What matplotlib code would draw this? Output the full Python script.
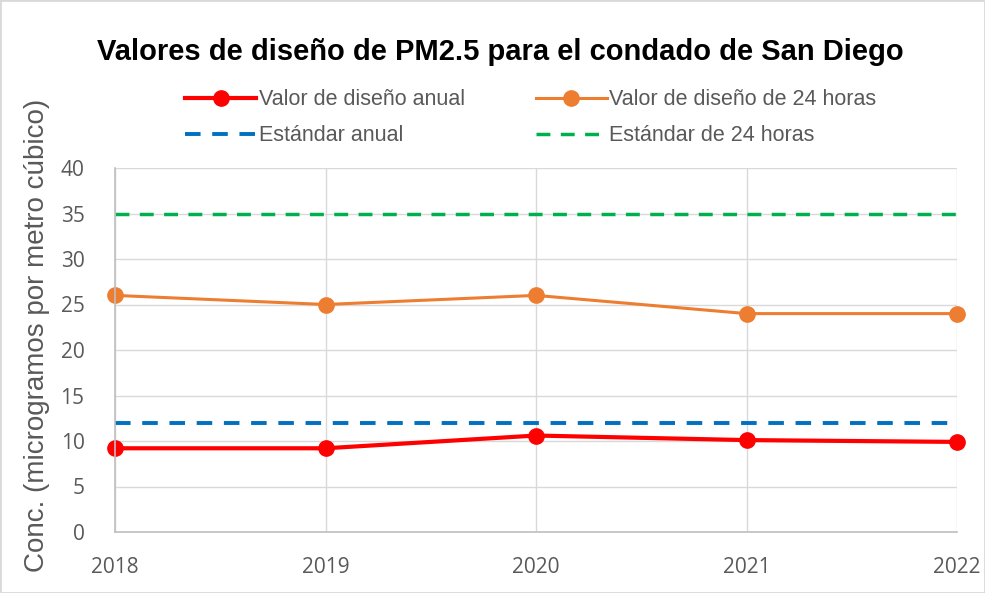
import matplotlib.pyplot as plt
from matplotlib.patches import Rectangle

years = [2018, 2019, 2020, 2021, 2022]
anual = [9.2, 9.2, 10.6, 10.1, 9.9]
horas24 = [26, 25, 26, 24, 24]
std_anual = [12, 12, 12, 12, 12]
std_24h = [35, 35, 35, 35, 35]
yticks = [0, 5, 10, 15, 20, 25, 30, 35, 40]

gray = "#595959"

fig = plt.figure(figsize=(9.85, 5.93), dpi=100)
ax = fig.add_axes([115 / 985, 61 / 593, 842 / 985, 364 / 593])

l_std24, = ax.plot(years, std_24h, "--", color="#00B050", lw=2.5, dashes=(4, 3),
                   label="Estándar de 24 horas")
l_stdan, = ax.plot(years, std_anual, "--", color="#0070C0", lw=2.8, dashes=(4, 3),
                   label="Estándar anual")
l_24h, = ax.plot(years, horas24, "-o", color="#ED7D31", lw=2.2, markersize=11,
                 clip_on=False, label="Valor de diseño de 24 horas")
l_an, = ax.plot(years, anual, "-o", color="#FF0000", lw=3, markersize=11,
                clip_on=False, label="Valor de diseño anual")

ax.set_xlim(2018, 2022)
ax.set_ylim(0, 40)
ax.set_xticks(years)
ax.set_yticks(yticks)
ax.grid(True, color="#D9D9D9", lw=1)
ax.set_axisbelow(True)
for s in ["top", "right"]:
    ax.spines[s].set_visible(False)
for s in ["left", "bottom"]:
    ax.spines[s].set_color("#BFBFBF")
    ax.spines[s].set_linewidth(1.2)
ax.tick_params(length=0, labelsize=15, labelcolor=gray)
ax.tick_params(axis="x", pad=18)
ax.tick_params(axis="y", pad=22)
for lab in ax.get_xticklabels() + ax.get_yticklabels():
    lab.set_family("Open Sans")
ax.set_ylabel("Conc. (microgramos por metro cúbico)", fontsize=20,
              color=gray, family="Liberation Sans")
ax.yaxis.set_label_coords(-0.077, 0.54)

fig.legend([l_an, l_stdan, l_24h, l_std24],
           [l.get_label() for l in [l_an, l_stdan, l_24h, l_std24]],
           ncol=2, loc="upper left", bbox_to_anchor=(166 / 985, 1 - 70 / 593),
           frameon=False, handlelength=3.3, handletextpad=0.1,
           columnspacing=3.3, labelspacing=0.7,
           prop={"family": "Liberation Sans", "size": 15.5}, labelcolor=gray)

fig.text(500 / 985, 1 - 52 / 593, "Valores de diseño de PM2.5 para el condado de San Diego",
         ha="center", va="center", fontsize=21, fontweight="bold",
         family="Liberation Sans")

fig.patches.append(Rectangle((0, 0), 1, 1, transform=fig.transFigure,
                             fill=False, ec="#D9D9D9", lw=2))

fig.savefig("out.png", dpi=100)
